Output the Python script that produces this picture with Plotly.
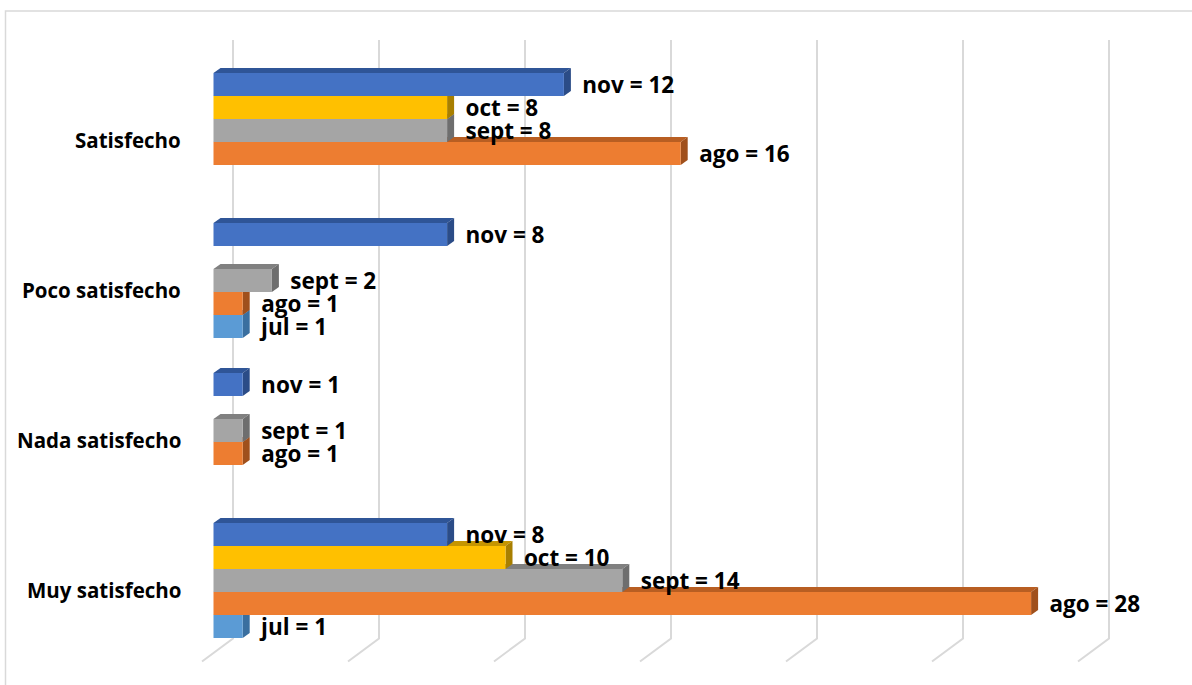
import plotly.graph_objects as go

# ---------------- data ----------------
categories = ["Muy satisfecho", "Nada satisfecho", "Poco satisfecho", "Satisfecho"]
series_names = ["jul", "ago", "sept", "oct", "nov"]
jul = [1, None, 1, None]
ago = [28, 1, 1, 16]
sept = [14, 1, 2, 8]
oct_ = [10, None, None, 8]
nov = [8, 1, 8, 12]
series_values = [jul, ago, sept, oct_, nov]
grid_ticks = [0, 5, 10, 15, 20, 25, 30]

# ---------------- style ----------------
front_colors = ["#5B9BD5", "#ED7D31", "#A5A5A5", "#FFC000", "#4472C4"]
top_colors = ["#3F7FBF", "#B85E22", "#808080", "#C69500", "#2F5597"]
side_colors = ["#3A6F9F", "#A0501C", "#6E6E6E", "#A87F00", "#2B4C87"]

W, H = 1192, 685
ML, MR, MT, MB = 185, 12, 30, 15
PXU = 29.2          # px per value unit
X0PX = 213.5        # px of value 0 (front)
CAT0PX = 580.5      # px of first category centre
PXC = 150.0         # px per category
plot_w = W - ML - MR
plot_h = H - MT - MB
x_lo = (ML - X0PX) / PXU
x_hi = x_lo + plot_w / PXU
y_lo = (CAT0PX - (H - MB)) / PXC
y_hi = (CAT0PX - MT) / PXC

bargap = 35 / PXC
nser = len(series_names)
bw = (1 - bargap) / nser
dx = 7 / PXU
dy = 5 / PXC

FONT = "Open Sans"
PAD = "\u00a0\u00a0\u2009"

fig = go.Figure()
shapes = []

# gridlines (back wall + floor), drawn below
gx_off = (233 - X0PX) / PXU
g_top = (CAT0PX - 40) / PXC
g_bot = (CAT0PX - 638.5) / PXC
g_floor = (CAT0PX - 661.5) / PXC
fdx = 31 / PXU
for t in grid_ticks:
    gx = t + gx_off
    shapes.append(dict(type="path", xref="x", yref="y", layer="below",
                       path=f"M {gx},{g_top} L {gx},{g_bot} L {gx - fdx},{g_floor}",
                       line=dict(color="#D9D9D9", width=2)))

for i, (name, vals) in enumerate(zip(series_names, series_values)):
    texts = [(PAD + f"{name} = {v}") if v is not None else "" for v in vals]
    fig.add_trace(go.Bar(
        y=list(range(len(categories))), x=vals, orientation="h", name=name,
        marker=dict(color=front_colors[i], line=dict(width=0)),
        text=texts, textposition="outside", cliponaxis=False,
        constraintext="none",
        textfont=dict(family=FONT, size=22.5, color="#000000", weight="bold"),
        hoverinfo="skip",
    ))
    for c, v in enumerate(vals):
        if v is None:
            continue
        yb = c - (1 - bargap) / 2 + i * bw
        yt = yb + bw
        shapes.append(dict(type="path", xref="x", yref="y", layer="between",
                           path=f"M 0,{yt} L {dx},{yt + dy} L {v + dx},{yt + dy} L {v},{yt} Z",
                           fillcolor=top_colors[i], line=dict(width=0)))
        shapes.append(dict(type="path", xref="x", yref="y", layer="between",
                           path=f"M {v},{yb} L {v + dx},{yb + dy} L {v + dx},{yt + dy} L {v},{yt} Z",
                           fillcolor=side_colors[i], line=dict(width=0)))

# outer border
bx0 = (5.5 - ML) / plot_w
by1 = (H - MB - 11) / plot_h
shapes.append(dict(type="rect", xref="paper", yref="paper", layer="below",
                   x0=bx0, x1=1.5, y0=-0.5, y1=by1,
                   line=dict(color="#D9D9D9", width=1.5), fillcolor="rgba(0,0,0,0)"))

annotations = []
for c, cat in enumerate(categories):
    annotations.append(dict(text=f"<b>{cat}</b>", xref="paper", yref="y",
                            x=(183 - ML) / plot_w, y=c, xanchor="right", yanchor="middle",
                            yshift=-9, showarrow=False,
                            font=dict(family=FONT, size=20.5, color="#000000")))

fig.update_layout(
    width=W, height=H,
    margin=dict(l=ML, r=MR, t=MT, b=MB),
    barmode="group", bargap=bargap, bargroupgap=0,
    showlegend=False,
    paper_bgcolor="white", plot_bgcolor="white",
    shapes=shapes, annotations=annotations,
    xaxis=dict(range=[x_lo, x_hi], showgrid=False, zeroline=False,
               showticklabels=False, showline=False, fixedrange=True),
    yaxis=dict(range=[y_lo, y_hi], showgrid=False, zeroline=False,
               showticklabels=False, showline=False, fixedrange=True),
    hovermode=False,
)

fig.write_html("out.html")
